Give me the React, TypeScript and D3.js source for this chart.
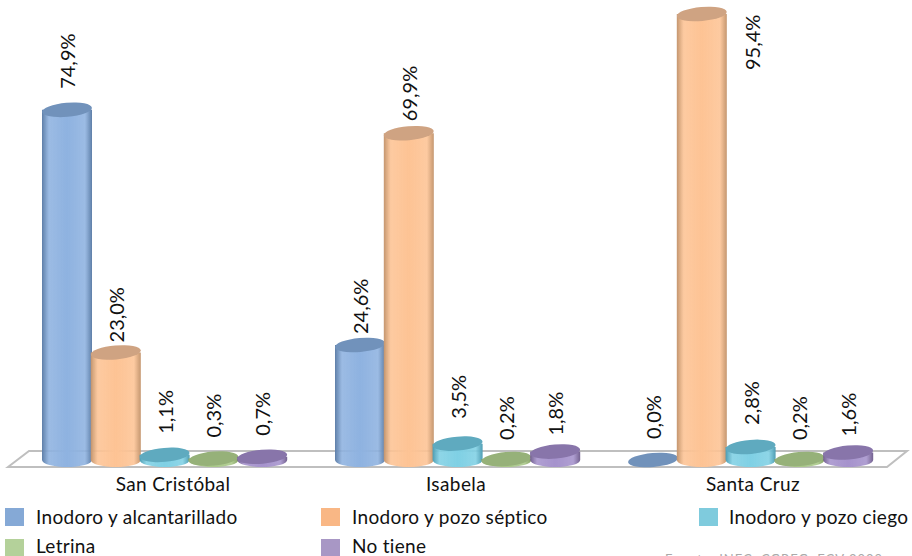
import React from "react";
import * as d3 from "d3";

const categories = ["San Cristóbal", "Isabela", "Santa Cruz"];
const seriesNames = ["Inodoro y alcantarillado", "Inodoro y pozo séptico", "Inodoro y pozo ciego", "Letrina", "No tiene"];
const alcantarillado = [74.9, 24.6, 0.0];
const septico = [23.0, 69.9, 95.4];
const ciego = [1.1, 3.5, 2.8];
const letrina = [0.3, 0.2, 0.2];
const noTiene = [0.7, 1.8, 1.6];
const seriesValues = [alcantarillado, septico, ciego, letrina, noTiene];
const sourceNote = "Fuente: INEC, CGREG, ECV 2009";

const W = 912, H = 556;
const colors = [
  { dark: "#5f7fa8", mid: "#8eb2e0", top: "#7192bb" },
  { dark: "#c4966f", mid: "#fdc394", top: "#cfa382" },
  { dark: "#4f9db3", mid: "#7fd0e4", top: "#5eaabf" },
  { dark: "#84a063", mid: "#a9c888", top: "#96b179" },
  { dark: "#73618f", mid: "#a592cc", top: "#8875aa" },
];
const swatch = ["#85a9d6", "#f9b785", "#7fcbdd", "#b4d19a", "#a897c5"];

const y = d3.scaleLinear().domain([0, 95.4]).range([460, 14]);
const xGroup = d3.scalePoint<number>().domain([0, 1, 2]).range([42, 628]);
const xSeries = d3.scaleLinear().domain([0, 1]).range([0, 48.8]);
const BW = 50, RY = 8;
const labelGap = [[21, 10, 21, 21, 21], [11, 12, 25, 19, 16], [21, 0, 22, 19, 16]];
const labelDx = [[0, 0, 0, 0, 0], [0, 0, 0, 0, 0], [0, 50, 0, 0, 0]];
const categoryDx = [7, -3, 1];

const legend = [
  { x: 5, y: 508, tx: 36, ty: 524 },
  { x: 321, y: 508, tx: 352, ty: 524 },
  { x: 699, y: 508, tx: 729, ty: 524 },
  { x: 5, y: 539, tx: 36, ty: 553 },
  { x: 321, y: 539, tx: 352, ty: 553 },
];
const font = "Lato, 'Open Sans', sans-serif";

export default function App() {
  const floor = d3.line()([[8, 467], [29, 451], [907, 451], [887, 467]]) + "Z";
  return (
    <svg width={W} height={H} viewBox={`0 0 ${W} ${H}`} style={{ position: "absolute", left: 0, top: 0, background: "#fff" }}>
      <defs>
        {colors.map((c, i) => (
          <linearGradient id={`g${i}`} key={i} x1="0" x2="1" y1="0" y2="0">
            <stop offset="0" stopColor={c.dark} />
            <stop offset="0.14" stopColor={c.mid} stopOpacity="0.88" />
            <stop offset="0.5" stopColor={c.mid} />
            <stop offset="0.86" stopColor={c.mid} stopOpacity="0.88" />
            <stop offset="1" stopColor={c.dark} />
          </linearGradient>
        ))}
        <filter id="soft"><feGaussianBlur stdDeviation="0.7" /></filter>
      </defs>
      <path d={floor} fill="#fff" stroke="#bfbfbf" strokeWidth={2} />
      {categories.map((cat, g) => (
        <g key={cat}>
          {seriesValues.map((vals, s) => {
            const v = vals[g];
            const x0 = xGroup(g)! + xSeries(s);
            const cx = x0 + BW / 2;
            const yTop = y(v), yBase = y(0);
            const h = yBase - yTop;
            const body = `M${x0},${yTop}L${x0},${yBase}A${BW / 2},${RY - 1} 0 0 0 ${x0 + BW},${yBase}L${x0 + BW},${yTop}Z`;
            return (
              <g key={s} filter="url(#soft)">
                {h > 0.5 && <path d={body} fill={`url(#g${s})`} />}
                <ellipse cx={cx} cy={yTop} rx={BW / 2} ry={RY - 1} fill={colors[s].top} transform={`rotate(-5 ${cx} ${yTop})`} />
              </g>
            );
          })}
        </g>
      ))}
      {categories.map((cat, g) =>
        seriesValues.map((vals, s) => {
          const v = vals[g];
          const tx = xGroup(g)! + xSeries(s) + BW / 2 + labelDx[g][s] + 1;
          const ty = y(v) - labelGap[g][s] + (labelDx[g][s] ? 56 : 0);
          return (
            <text key={`${g}-${s}`} transform={`translate(${tx},${ty}) rotate(-90)`} dy="0.35em" fontFamily={font} fontSize={20} fill="#111">
              {d3.format(".1f")(v).replace(".", ",")}%
            </text>
          );
        })
      )}
      {categories.map((cat, g) => (
        <text key={cat} x={xGroup(g)! + 2.5 * 48.8 + 2 + categoryDx[g]} y={491} textAnchor="middle" fontFamily={font} fontSize={19} letterSpacing={0.4} fill="#111">{cat}</text>
      ))}
      {seriesNames.map((n, i) => (
        <g key={n}>
          <rect x={legend[i].x} y={legend[i].y} width={19} height={18} fill={swatch[i]} />
          <text x={legend[i].tx} y={legend[i].ty} fontFamily={font} fontSize={19} letterSpacing={0.3} fill="#111">{n}</text>
        </g>
      ))}
      <text x={665} y={564} fontFamily={font} fontSize={13} letterSpacing={1} fill="#aaa">{sourceNote}</text>
    </svg>
  );
}
